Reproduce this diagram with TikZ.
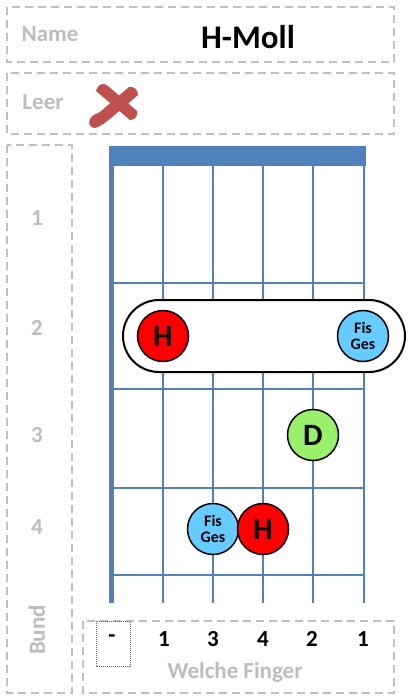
\documentclass[tikz,border=0pt]{standalone}
\usepackage{fontspec}
\setmainfont{Carlito}
\definecolor{boxgray}{HTML}{C0C0C0}
\definecolor{labelgray}{HTML}{BDBDBD}
\definecolor{fretblue}{HTML}{4F81BD}
\definecolor{xred}{HTML}{C0504D}
\definecolor{notered}{HTML}{FF0000}
\definecolor{noteblue}{HTML}{66CCFF}
\definecolor{notegreen}{HTML}{99F06A}
\begin{document}
\begin{tikzpicture}[x=1pt,y=-1pt,
  gbox/.style={draw=boxgray, line width=1.5pt, dash pattern=on 8pt off 5pt},
  lbl/.style={text=labelgray, font=\bfseries\fontsize{23}{26}\selectfont, inner sep=0pt},
  fnum/.style={text=black, font=\bfseries\fontsize{23}{26}\selectfont, inner sep=0pt},
  note/.style={circle, draw=black, line width=1.5pt, minimum size=51pt, inner sep=0pt, font=\bfseries\fontsize{31}{33}\selectfont},
  dnote/.style={circle, draw=black, line width=1.5pt, minimum size=51pt, inner sep=0pt, align=center, font=\bfseries\fontsize{16}{17}\selectfont},
  stringline/.style={draw=fretblue, line width=2.8pt},
  fretline/.style={draw=fretblue, line width=2.8pt}
]
\useasboundingbox (0,0) rectangle (409,700);
\fill[white] (0,0) rectangle (409,700);

% boxes
\draw[gbox] (7,7) rectangle (394,62);
\draw[gbox] (7,73) rectangle (394,134);
\draw[gbox] (7,145) rectangle (72,693);
\draw[gbox] (83,621) rectangle (394,693);
\draw[black!60, line width=0.8pt, dash pattern=on 1pt off 1pt] (96,621) rectangle (130,666);

% labels
\node[lbl] (name) at (50,34) {Name};
\node[text=black, font=\bfseries\fontsize{33}{36}\selectfont, inner sep=0pt] (title) at (248,37) {H-Moll};
\node[lbl] (leer) at (43,102) {Leer};
\node[lbl] (b1) at (37,218) {1};
\node[lbl] (b2) at (37,328) {2};
\node[lbl] (b3) at (37,435) {3};
\node[lbl] (b4) at (37,527) {4};
\node[lbl, rotate=90] (bund) at (37,630) {Bund};
\node[lbl] (welche) at (235,672) {Welche Finger};

% finger numbers
\node[fnum] (f1) at (112,639) {-};
\node[fnum] (f2) at (164,639) {1};
\node[fnum] (f3) at (213,639) {3};
\node[fnum] (f4) at (263,639) {4};
\node[fnum] (f5) at (312,639) {2};
\node[fnum] (f6) at (363,639) {1};

% red X
\fill[xred] (96,91) .. controls (98,84) and (103,82) .. (108,86) -- (137,111) .. controls (138,116) and (135,120) .. (130,120) -- cycle;
\fill[xred] (129,87) .. controls (134,86) and (138,90) .. (138,95) -- (111,118) .. controls (106,122) and (100,127) .. (95,128) .. controls (90,128) and (88,124) .. (90,119) .. controls (92,115) and (96,114) .. (100,112) -- cycle;

% fretboard
\fill[fretblue] (109,146) rectangle (366,166);
\draw[fretblue, line width=5.5pt] (111.5,146) -- (111.5,603);
\foreach \x in {163,213,263,313,364} {
  \draw[stringline] (\x,166) -- (\x,603);
}
\foreach \y in {283,389,488,575} {
  \draw[fretline] (111,\y) -- (365,\y);
}

% barre
\draw[black, line width=2pt, fill=white, rounded corners=36pt] (123,300) rectangle (405,372);

% notes
\node[note, fill=notered] (h1) at (163,336) {H};
\node[dnote, fill=noteblue] (fg1) at (363,336) {Fis\\[-1pt]Ges};
\node[note, fill=notegreen] (d1) at (313,435) {D};
\node[dnote, fill=noteblue] (fg2) at (213,529) {Fis\\[-1pt]Ges};
\node[note, fill=notered] (h2) at (263,529) {H};
\end{tikzpicture}
\end{document}
